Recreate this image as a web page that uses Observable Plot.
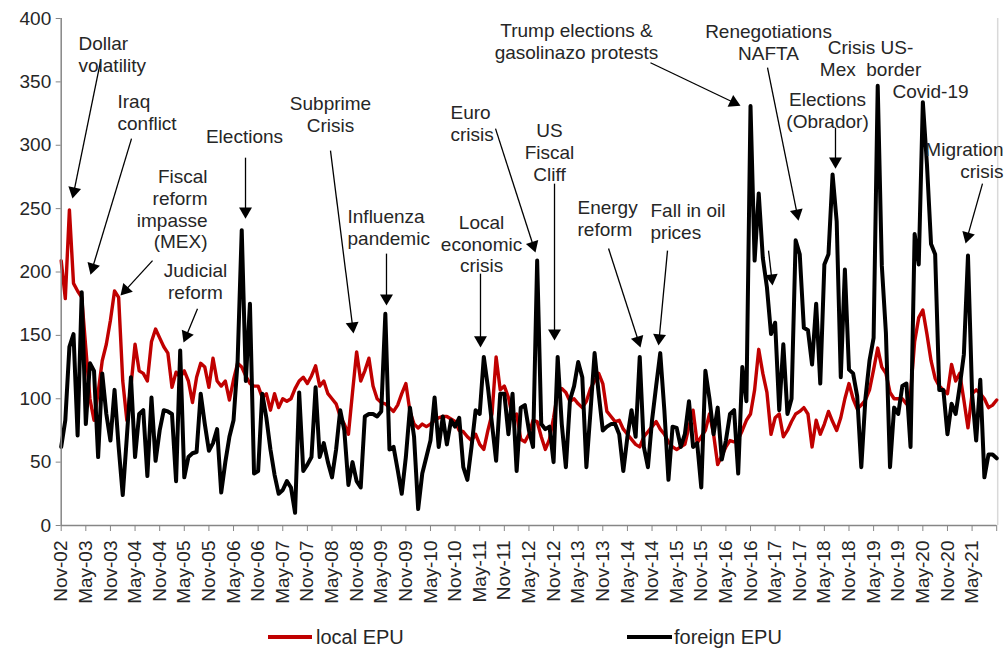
<!DOCTYPE html>
<html>
<head>
<meta charset="utf-8">
<script src="https://cdn.jsdelivr.net/npm/d3@7"></script>
<script src="https://cdn.jsdelivr.net/npm/@observablehq/plot@0.6"></script>
<style>
  body { margin: 0; background: #fff; font-family: "Liberation Sans", Arial, sans-serif; }
  #wrap { position: relative; width: 1008px; height: 652px; overflow: hidden; }
  #chart { position: absolute; left: 0; top: 0; }
  .sw { position: absolute; height: 4px; top: 635px; }
  .lt { position: absolute; top: 625px; line-height: 24px; font-size: 20px; color: #262626; white-space: nowrap; }
</style>
</head>
<body>
<div id="wrap">
  <div id="chart"></div>
  <div class="sw" style="left:268px;width:44px;background:#C00000"></div>
  <div class="lt" style="left:316px">local EPU</div>
  <div class="sw" style="left:627px;width:45px;background:#000"></div>
  <div class="lt" style="left:674px">foreign EPU</div>
</div>
<script>
// Monthly index: 0 = Nov-2002 ... 228 = Nov-2021
const localEPU = [
  209,179,249,191,185,180,140,100,83,105,130,143,
  162,185,180,114,83,110,143,122,120,114,145,155,
  148,141,136,109,121,117,122,114,97,117,128,125,
  109,132,114,110,114,99,115,128,125,118,112,110,
  110,101,104,91,104,93,100,98,100,108,114,117,
  112,118,126,110,114,104,100,96,86,80,72,105,
  137,114,122,132,110,100,97,96,93,90,95,104,
  112,90,80,77,80,78,80,83,85,86,86,84,
  82,75,74,70,67,72,64,60,75,88,133,107,
  110,101,85,88,68,66,72,83,82,70,60,68,
  85,105,108,105,98,100,96,93,98,108,114,120,
  112,90,86,82,83,76,72,68,64,62,70,74,
  78,82,76,72,66,62,60,62,64,78,91,65,
  70,75,88,72,48,55,62,67,66,68,75,83,
  88,107,139,120,105,72,85,88,70,75,82,88,
  90,93,88,62,83,72,80,90,82,75,85,100,
  112,100,92,95,99,107,123,140,125,120,105,100,
  100,100,96,104,145,164,170,151,130,116,110,107,
  104,127,114,120,99,77,104,107,104,100,93,95,
  99
];
const foreignEPU = [
  62,83,141,151,71,184,80,128,122,54,120,88,
  67,107,62,24,70,117,54,88,91,39,101,51,
  75,91,90,88,35,138,38,54,57,58,104,80,
  59,65,76,26,50,70,83,130,233,114,175,41,
  43,104,85,60,40,25,28,35,30,10,105,43,
  48,54,109,54,65,50,38,60,91,75,32,50,
  35,30,86,88,88,86,90,167,60,62,44,25,
  54,93,70,13,41,54,67,101,62,86,64,83,
  78,85,46,36,62,91,88,133,109,80,51,104,
  104,72,104,43,93,95,75,62,209,80,76,78,
  50,133,80,46,99,110,129,117,46,90,136,104,
  75,78,80,80,72,43,70,91,70,133,62,46,
  83,110,136,91,36,78,77,62,72,98,62,65,
  30,122,100,72,93,52,67,88,91,41,125,98,
  331,209,262,211,188,151,160,91,143,88,100,225,
  214,156,154,127,175,112,206,214,277,240,117,202,
  123,120,102,46,100,130,148,347,205,152,46,93,
  88,110,112,62,230,206,334,285,222,214,107,107,
  72,96,88,110,135,213,104,67,115,38,56,56,
  53
];
const xTickLabels = ["Nov-02","May-03","Nov-03","May-04","Nov-04","May-05","Nov-05","May-06",
  "Nov-06","May-07","Nov-07","May-08","Nov-08","May-09","Nov-09","May-10","Nov-10","May-11",
  "Nov-11","May-12","Nov-12","May-13","Nov-13","May-14","Nov-14","May-15","Nov-15","May-16",
  "Nov-16","May-17","Nov-17","May-18","Nov-18","May-19","Nov-19","May-20","Nov-20","May-21",""];
const yTicks = [0,50,100,150,200,250,300,350,400];

// Annotation labels (x = month index, y = EPU value)
const annotations = [
  {text:"Dollar\nvolatility", x:4.22, y:371.8, anchor:"start"},
  {text:"Iraq\nconflict", x:13.72, y:326.5, anchor:"start"},
  {text:"Fiscal\nreform\nimpasse\n(MEX)", x:35.66, y:250.0, anchor:"end"},
  {text:"Judicial\nreform", x:32.73, y:193.2, anchor:"middle"},
  {text:"Elections", x:44.67, y:307.6, anchor:"middle"},
  {text:"Subprime\nCrisis", x:65.63, y:324.9, anchor:"middle"},
  {text:"Influenza\npandemic", x:69.78, y:235.8, anchor:"start"},
  {text:"Local\neconomic\ncrisis", x:102.44, y:222.4, anchor:"middle"},
  {text:"Euro\ncrisis", x:94.88, y:317.8, anchor:"start"},
  {text:"US\nFiscal\nCliff", x:119.01, y:294.9, anchor:"middle"},
  {text:"Energy\nreform", x:125.83, y:242.5, anchor:"start"},
  {text:"Fall in oil\nprices", x:143.62, y:240.5, anchor:"start"},
  {text:"Trump elections &\ngasolinazo protests", x:125.59, y:382.1, anchor:"middle"},
  {text:"Renegotiations\nNAFTA", x:172.39, y:381.7, anchor:"middle"},
  {text:"Elections\n(Obrador)", x:186.77, y:328.1, anchor:"middle"},
  {text:"Crisis US-\nMex\u00a0 border", x:197.25, y:368.7, anchor:"middle"},
  {text:"Covid-19", x:211.87, y:343.1, anchor:"middle"},
  {text:"Migration\ncrisis", x:229.66, y:288.6, anchor:"end"}
];
const arrows = [
  {x1:9.58, y1:366.1, x2:2.75, y2:257.9},
  {x1:17.14, y1:305.2, x2:7.14, y2:197.9},
  {x1:22.26, y1:209.0, x2:14.45, y2:181.4},
  {x1:33.22, y1:171.1, x2:29.81, y2:144.3},
  {x1:44.92, y1:290.2, x2:44.92, y2:242.1},
  {x1:65.63, y1:295.7, x2:71.24, y2:151.4},
  {x1:79.28, y1:214.5, x2:79.28, y2:173.5},
  {x1:102.19, y1:198.7, x2:102.19, y2:140.4},
  {x1:105.85, y1:313.1, x2:115.60, y2:215.3},
  {x1:120.23, y1:269.7, x2:120.23, y2:145.9},
  {x1:133.4, y1:218.5, x2:141.19, y2:140.4},
  {x1:147.77, y1:216.9, x2:145.58, y2:142.0},
  {x1:143.62, y1:365.1, x2:165.56, y2:331.2},
  {x1:172.14, y1:361.2, x2:179.7, y2:240.5},
  {x1:172.39, y1:216.9, x2:173.37, y2:189.3},
  {x1:188.71, y1:313.9, x2:188.71, y2:281.5},
  {x1:224.54, y1:269.7, x2:220.41, y2:222.4}
];

const W = 1008, H = 612;
const mL = 60.7, mR = 11.8, mT = 18, mB = 87;
const nMonths = localEPU.length - 1;
const xs = d3.scaleLinear([0, nMonths], [mL, W - mR]);
const ys = d3.scaleLinear([0, 400], [H - mB, mT]);

const local = localEPU.map((v, i) => ({m: i, v}));
const foreign = foreignEPU.map((v, i) => ({m: i, v}));

const headR = 4.8;
const heads = arrows.map(a => {
  const px1 = xs(a.x1), py1 = ys(a.y1), px2 = xs(a.x2), py2 = ys(a.y2);
  const dx = px2 - px1, dy = py2 - py1, len = Math.hypot(dx, dy);
  const ux = dx / len, uy = dy / len;
  const size = headR * headR * Math.PI;
  const yy = Math.sqrt(size / (Math.sqrt(3) * 3));
  const cx = px2 - ux * 2 * yy, cy = py2 - uy * 2 * yy;
  return {x1: a.x1, y1: a.y1, hx: xs.invert(cx), hy: ys.invert(cy),
          rot: Math.atan2(dx, -dy) * 180 / Math.PI};
});

const txt = "#262626";
const textOpts = {x: "x", y: "y", text: "text", fontSize: 19, lineHeight: 1.15, lineAnchor: "middle", fill: txt};

const chart = Plot.plot({
  width: W, height: H,
  marginLeft: mL, marginRight: mR, marginTop: mT, marginBottom: mB,
  x: {domain: [0, nMonths]},
  y: {domain: [0, 400]},
  style: {fontFamily: "'Liberation Sans', Arial, sans-serif", background: "#fff", overflow: "visible"},
  marks: [
    Plot.ruleX([nMonths], {stroke: "#d9d9d9", strokeWidth: 1.5, dx: 1}),
    Plot.line(local, {x: "m", y: "v", stroke: "#C00000", strokeWidth: 3.4}),
    Plot.line(foreign, {x: "m", y: "v", stroke: "#000", strokeWidth: 4}),
    Plot.ruleX([0], {stroke: "#868686", strokeWidth: 1.5}),
    Plot.ruleY([0], {stroke: "#868686", strokeWidth: 1.5}),
    Plot.link(heads, {x1: "x1", y1: "y1", x2: "hx", y2: "hy", stroke: "#000", strokeWidth: 1.3}),
    Plot.dot(heads, {x: "hx", y: "hy", symbol: "triangle", r: headR, fill: "#000", stroke: "none", rotate: "rot"}),
    Plot.text(annotations.filter(a => a.anchor === "start"), {...textOpts, textAnchor: "start"}),
    Plot.text(annotations.filter(a => a.anchor === "middle"), {...textOpts, textAnchor: "middle"}),
    Plot.text(annotations.filter(a => a.anchor === "end"), {...textOpts, textAnchor: "end"}),
    Plot.axisY({ticks: yTicks, tickSize: 5, tickPadding: 5, fontSize: 19, stroke: "#868686", fill: txt, tickFormat: d => String(d)}),
    Plot.axisX({ticks: d3.range(0, nMonths + 1, 6), tickFormat: d => xTickLabels[Math.round(d / 6)],
      tickRotate: -90, tickSize: 6, tickPadding: 9, fontSize: 19, stroke: "#868686", fill: txt})
  ]
});
document.getElementById("chart").appendChild(chart);
</script>
</body>
</html>
